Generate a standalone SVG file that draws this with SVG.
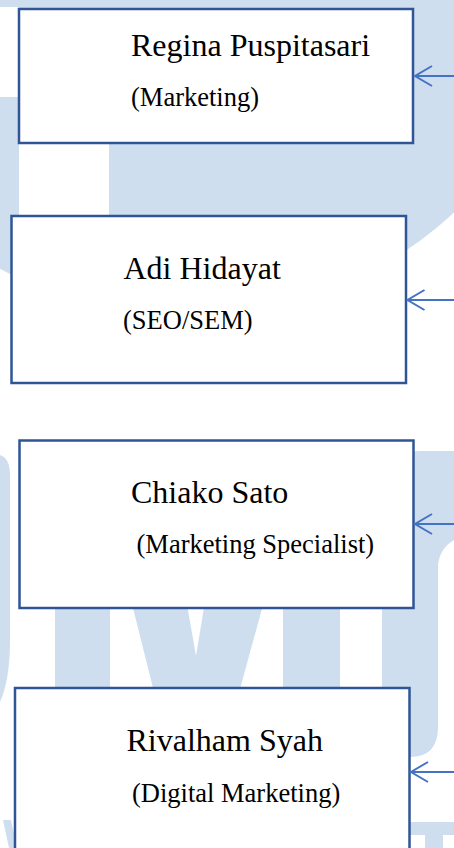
<svg xmlns="http://www.w3.org/2000/svg" width="454" height="848" viewBox="0 0 454 848">
<defs>
<style>
.bg{fill:#CEDEEE;stroke:none}
.wh{fill:#FFFFFF;stroke:none}
.box{fill:#FFFFFF;stroke:#2F5597;stroke-width:2.5}
.name{font-family:"Liberation Serif","Times New Roman",serif;font-size:32px;fill:#000000}
.role{font-family:"Liberation Serif","Times New Roman",serif;font-size:26.5px;fill:#000000}
.conn{stroke:#4472C4;stroke-width:2;fill:none}
</style>
<marker id="ah" markerUnits="userSpaceOnUse" markerWidth="22" markerHeight="26" refX="19" refY="13" orient="auto" viewBox="0 0 22 26">
<path d="M2,3 L19,13 L2,23" fill="none" stroke="#4472C4" stroke-width="2"/>
</marker>
</defs>
<rect x="0" y="0" width="454" height="848" fill="#FFFFFF"/>
<g id="watermark">
<circle class="bg" cx="188" cy="-74" r="391"/>
<rect class="wh" x="0" y="7" width="19" height="90"/>
<rect class="wh" x="19" y="143" width="90" height="74"/>
<path class="bg" d="M0,455 L4,457 Q10,462 10,475 L10,640 Q10,680 0,702 Z"/>
<rect class="bg" x="55" y="450" width="285" height="250"/>
<polygon class="wh" points="110,516 156,700 110,700"/>
<polygon class="wh" points="283,532 283,700 237,700"/>
<polygon class="wh" points="160,450 230,450 196,656"/>
<path class="bg" d="M382,480 Q384,451 420,451 L454,451 L454,540 Q440,548 438,565 L438,727 Q438,757 410,757 L382,757 Z"/>
<path class="bg" d="M3,820 L11,820 L17,848 L9,848 Z"/>
<path class="bg" d="M410,822 L454,822 L454,835 L443,835 L443,848 L425,848 L425,835 L410,835 Z"/>
</g>
<g id="node-regina">
<rect class="box" x="19" y="9" width="394" height="134"/>
<text class="name" x="131" y="56">Regina Puspitasari</text>
<text class="role" x="131" y="106">(Marketing)</text>
</g>
<g id="node-adi">
<rect class="box" x="11.5" y="216" width="394.5" height="167"/>
<text class="name" x="123.5" y="279">Adi Hidayat</text>
<text class="role" x="123" y="329">(SEO/SEM)</text>
</g>
<g id="node-chiako">
<rect class="box" x="19.5" y="440.5" width="394" height="167.5"/>
<text class="name" x="131" y="503">Chiako Sato</text>
<text class="role" x="136.5" y="553">(Marketing Specialist)</text>
</g>
<g id="node-rivalham">
<rect class="box" x="15" y="688" width="394.5" height="170"/>
<text class="name" x="126.5" y="751">Rivalham Syah</text>
<text class="role" x="132" y="802">(Digital Marketing)</text>
</g>
<g id="connectors">
<line class="conn" x1="454" y1="76" x2="415" y2="76" marker-end="url(#ah)"/>
<line class="conn" x1="454" y1="300" x2="407.5" y2="300" marker-end="url(#ah)"/>
<line class="conn" x1="454" y1="524" x2="415" y2="524" marker-end="url(#ah)"/>
<line class="conn" x1="454" y1="772" x2="411" y2="772" marker-end="url(#ah)"/>
</g>
</svg>
